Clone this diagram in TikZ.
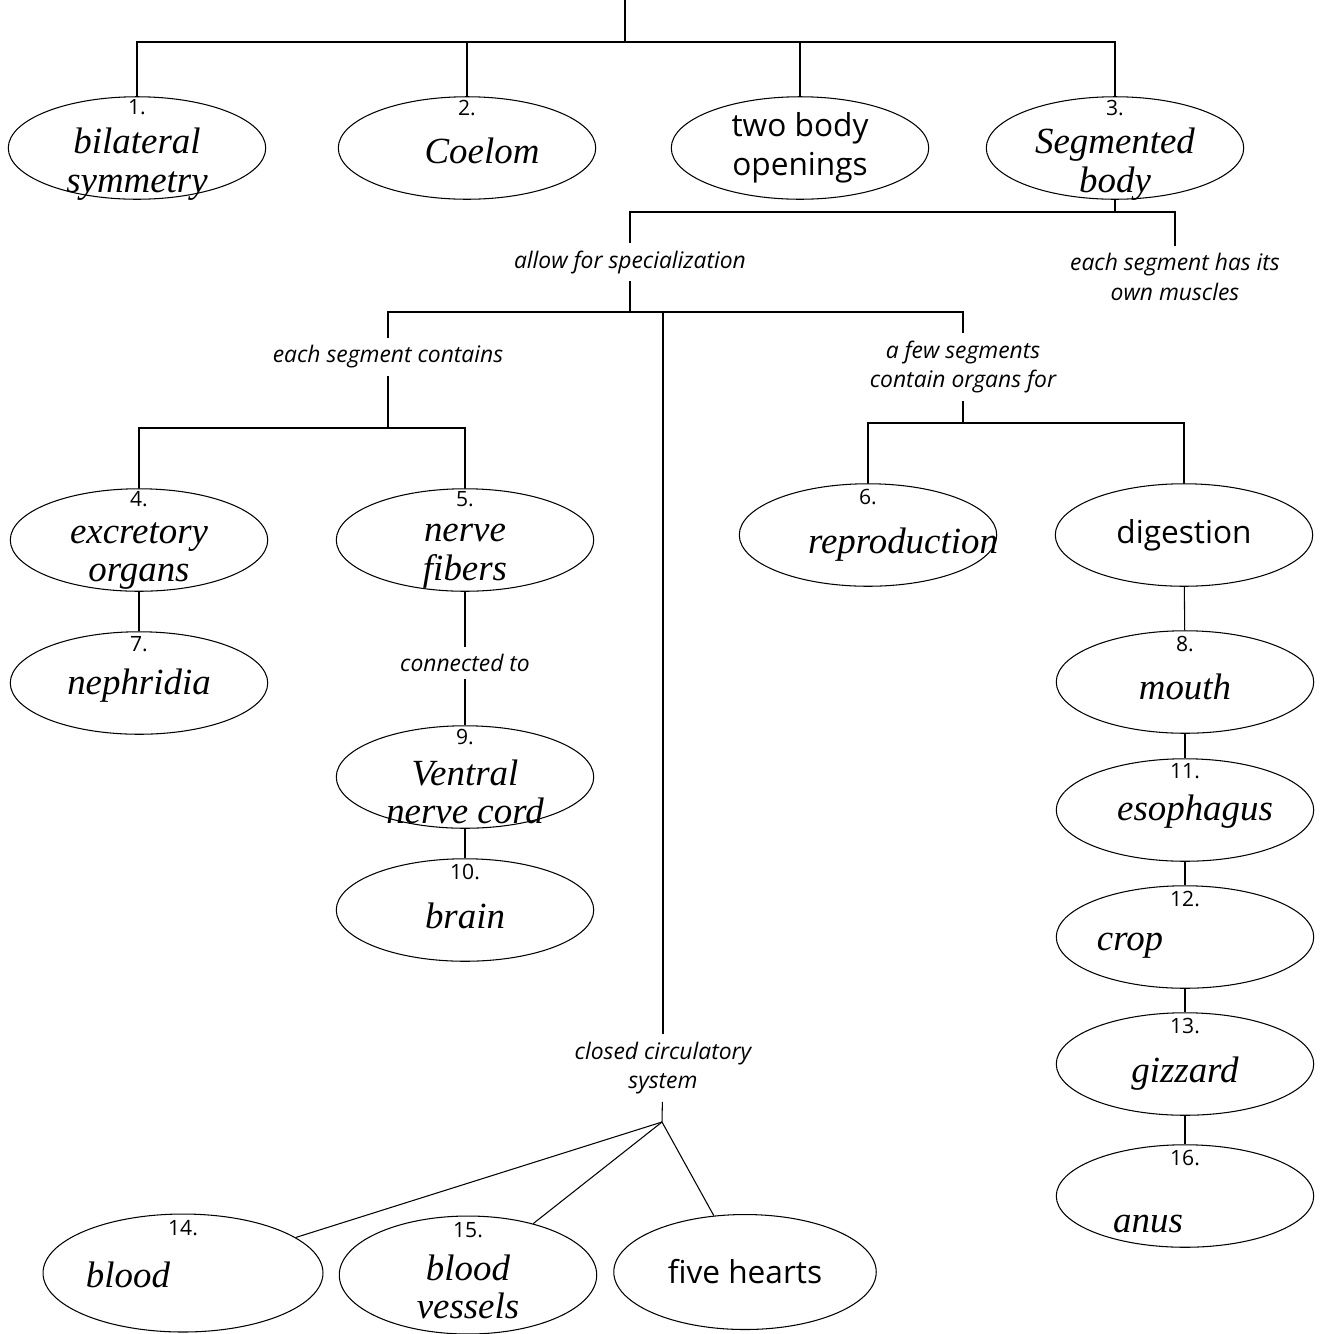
\documentclass[tikz,border=0pt]{standalone}
\usepackage{fontspec}
\setmainfont{Open Sans}
\newfontfamily\handfont{Liberation Serif}
\usetikzlibrary{shapes.geometric,positioning}

\tikzset{
  oval/.style={draw, ellipse, minimum width=5.15cm, minimum height=2.05cm, inner sep=0pt},
  num/.style={font=\fontsize{12}{14}\selectfont, inner sep=0pt},
  answer/.style={font=\handfont\itshape\fontsize{21}{22}\selectfont, align=center, inner sep=0pt},
  given/.style={font=\fontsize{18}{22}\selectfont, align=center},
  linkword/.style={font=\itshape\fontsize{13}{17}\selectfont, align=center, inner sep=4pt},
}

\begin{document}
\begin{tikzpicture}[x=0.02cm, y=-0.02cm, line width=0.6pt]
\useasboundingbox (0,0) rectangle (1341,1333);

% first row
\node[oval] (bilat) at (137,148) {};
\node[oval] (coel) at (467,148) {};
\node[oval, given] (body) at (800,148) {two body\\openings};
\node[oval] (seg) at (1115,148) {};
\node[num, below=0.06cm of bilat.north] (n1) {1.};
\node[num, below=0.06cm of coel.north] (n2) {2.};
\node[num, below=0.06cm of seg.north] (n3) {3.};
\node[answer] (a1) at ([yshift=-0.32cm]bilat.center) {bilateral\\symmetry};
\node[answer] (a2) at ([xshift=0.3cm, yshift=-0.06cm]coel.center) {Coelom};
\node[answer] (a3) at ([yshift=-0.32cm]seg.center) {Segmented\\body};

\coordinate (topend) at (625,0);
\coordinate (j1) at (625,42);
\draw (topend) -- (j1);
\draw (bilat) -- (bilat |- j1) -- (seg |- j1) -- (seg);
\draw (coel) -- (coel |- j1);
\draw (body) -- (body |- j1);

% linking words
\node[linkword] (spec) at (630,262) {allow for specialization};
\node[linkword] (musc) at (1175,277) {each segment has its\\own muscles};
\node[linkword] (each) at (388,357) {each segment contains};
\node[linkword] (few) at (963,367) {a few segments\\contain organs for};
\node[linkword] (circ) at (663,1068) {closed circulatory\\system};

\coordinate (j2) at (1115,212);
\draw (seg) -- (j2);
\draw (spec) -- (spec |- j2) -- (musc |- j2) -- (musc);
\coordinate (j3) at (630,312);
\draw (spec) -- (j3);
\draw (each) -- (each |- j3) -- (few |- j3) -- (few);
\draw (circ) -- (circ |- j3);

% second row
\node[oval] (excr) at (139,540) {};
\node[oval] (nerve) at (465,540) {};
\node[oval] (repro) at (868,535) {};
\node[oval, given] (dig) at (1184,535) {digestion};
\node[num, below=0.06cm of excr.north] (n4) {4.};
\node[num, below=0.06cm of nerve.north] (n5) {5.};
\node[num, below=0.1cm of repro.north] (n6) {6.};
\node[answer] (a4) at ([yshift=-0.32cm]excr.center) {excretory\\organs};
\node[answer] (a5) at ([yshift=-0.32cm]nerve.center) {nerve\\fibers};
\node[answer] (a6) at ([xshift=0.7cm, yshift=-0.2cm]repro.center) {reproduction};

\coordinate (j4) at (388,428);
\draw (each) -- (j4);
\draw (excr) -- (excr |- j4) -- (nerve |- j4) -- (nerve);
\coordinate (j5) at (963,423);
\draw (few) -- (j5);
\draw (repro) -- (repro |- j5) -- (dig |- j5) -- (dig);

% nervous side
\node[oval] (neph) at (139,683) {};
\node[num, below=0.1cm of neph.north] (n7) {7.};
\node[answer] (a7) at ([yshift=-0.06cm]neph.center) {nephridia};
\draw (excr) -- (neph);

\node[linkword] (conn) at (465,663) {connected to};
\node[oval] (ventral) at (465,777) {};
\node[oval] (brain) at (465,910) {};
\node[num, below=0.06cm of ventral.north] (n9) {9.};
\node[num, below=0.1cm of brain.north] (n10) {10.};
\node[answer] (a9) at ([yshift=-0.3cm]ventral.center) {Ventral\\nerve cord};
\node[answer] (a10) at ([yshift=-0.12cm]brain.center) {brain};
\draw (nerve) -- (conn) -- (ventral) -- (brain);

% digestive tract
\node[oval] (mouth) at (1185,682) {};
\node[oval] (esoph) at (1185,810) {};
\node[oval] (crop) at (1185,937) {};
\node[oval] (gizz) at (1185,1064) {};
\node[oval] (anus) at (1185,1196) {};
\node[num, below=0.1cm of mouth.north] (n8) {8.};
\node[num, below=0.1cm of esoph.north] (n11) {11.};
\node[num, below=0.1cm of crop.north] (n12) {12.};
\node[num, below=0.1cm of gizz.north] (n13) {13.};
\node[num, below=0.1cm of anus.north] (n16) {16.};
\node[answer] (a8) at ([yshift=-0.1cm]mouth.center) {mouth};
\node[answer] (a11) at ([xshift=0.2cm, yshift=-0.04cm]esoph.center) {esophagus};
\node[answer] (a12) at ([xshift=-1.1cm, yshift=-0.18cm]crop.center) {crop};
\node[answer] (a13) at ([yshift=-0.2cm]gizz.center) {gizzard};
\node[answer] (a16) at ([xshift=-0.74cm, yshift=-0.56cm]anus.center) {anus};
\foreach \a/\b in {dig/mouth, mouth/esoph, esoph/crop, crop/gizz, gizz/anus}
  \draw (\a) -- (\b);

% circulation
\coordinate (hub) at (662,1122);
\node[oval, minimum width=5.6cm, minimum height=2.36cm] (blood) at (183,1273) {};
\node[oval, minimum height=2.36cm] (vessels) at (468,1275) {};
\node[oval, given, minimum width=5.25cm, minimum height=2.3cm] (hearts) at (745,1272) {five hearts};
\node[num, below=0.12cm of blood.north] (n14) {14.};
\node[num, below=0.12cm of vessels.north] (n15) {15.};
\node[answer] (a14) at ([xshift=-1.1cm, yshift=-0.04cm]blood.center) {blood};
\node[answer] (a15) at ([yshift=-0.24cm]vessels.center) {blood\\vessels};
\draw (circ) -- (hub);
\draw (hub) -- (blood);
\draw (hub) -- (vessels);
\draw (hub) -- (hearts);
\end{tikzpicture}
\end{document}
